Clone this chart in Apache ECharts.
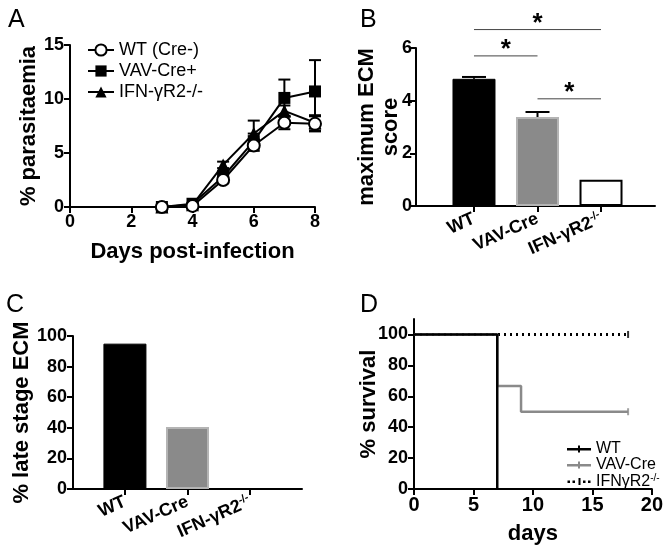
<!DOCTYPE html>
<html><head><meta charset="utf-8">
<script src="https://cdn.jsdelivr.net/npm/echarts@6/dist/echarts.min.js"></script>
<style>html,body{margin:0;padding:0;background:#fff}#c{width:666px;height:550px}</style>
</head><body><div id="c"></div>
<script>
// ---- Panel A data ----
const daysA = [3, 4, 5, 6, 7, 8];
const wtA = [0, 0.1, 2.5, 5.7, 7.8, 7.7];
const wtAErr = [0.1, 0.1, 0.3, 0.5, 0.6, 0.7];
const vavA = [0, 0.3, 2.8, 6.1, 10.1, 10.7];
const vavAErr = [0.1, 0.1, 0.3, 0.7, 1.7, 2.9];
const ifnA = [0, 0.2, 3.9, 6.8, 8.9, 7.8];
const ifnAErr = [0.1, 0.1, 0.3, 1.2, 0.5, 0.7];
const legendA = ['WT (Cre-)', 'VAV-Cre+', 'IFN-γR2-/-'];
// ---- Panel B data ----
const groupsB = ['WT', 'VAV-Cre', 'IFN-γR2-/-'];
const groupPos = [1, 2, 3];
const ecmMax = [4.83, 3.38, 1.0];
const ecmErr = [0.07, 0.19, 0];
// significance comparisons: [from group index, to group index, bracket height]
const sigPairs = [[0, 2, 6.7], [0, 1, 5.7], [1, 2, 4.07]];
// ---- Panel C data ----
const lateECM = [95, 40.5, 0];
// ---- Panel D data (Kaplan-Meier steps) ----
const survWT = [[0, 100], [7, 0]];
const survVAV = [[0, 100], [7, 66.7], [9, 50], [18, 50]];
const survIFN = [[0, 100], [18, 100]];
const legendD = ['WT', 'VAV-Cre', 'IFNγR2-/-'];

const FONT = 'Liberation Sans, Arial, sans-serif';
const ICON_SOLID = 'path://M0,2.5h24v2.5h-24z M11,0h2v7h-2z';
const ICON_DOTTED = 'path://M0,2.5h2.5v2.5h-2.5z M5,2.5h2.5v2.5h-2.5z M11,0h2v7h-2z M15.5,2.5h2.5v2.5h-2.5z M20.5,2.5h2.5v2.5h-2.5z';
const chart = echarts.init(document.getElementById('c'), null, {renderer: 'canvas'});

function axisBase(extra) {
  return Object.assign({
    axisLine: {show: true, lineStyle: {color: '#000', width: 2}},
    axisTick: {show: true, length: 6, lineStyle: {color: '#000', width: 2}},
    axisLabel: {color: '#000', fontFamily: FONT, fontWeight: 'bold', fontSize: 18, margin: 6},
    splitLine: {show: false},
    nameTextStyle: {color: '#000', fontFamily: FONT, fontWeight: 'bold', fontSize: 22},
    nameLocation: 'middle',
    nameMoveOverlap: false
  }, extra);
}
function deepAxis(base, over) {
  const a = axisBase({});
  for (const k in over) {
    if (typeof over[k] === 'object' && !Array.isArray(over[k]) && a[k]) a[k] = Object.assign({}, a[k], over[k]);
    else a[k] = over[k];
  }
  return a;
}

const richSup = {
  n: {color: '#000', fontFamily: FONT, fontWeight: 'bold', fontSize: 18},
  s: {color: '#000', fontFamily: FONT, fontWeight: 'bold', fontSize: 11, verticalAlign: 'top', padding: [0, 0, 9, 0]}
};
function catLabel(v) {
  const name = groupsB[groupPos.indexOf(v)] || '';
  const m = name.match(/^(.*?)(-\/-)$/);
  if (m) return '{n|' + m[1] + '}{s|' + m[2] + '}';
  return '{n|' + name + '}';
}

function errSeries(xIdx, yIdx, xs, ys, es, both, capW, z) {
  const data = xs.map((x, i) => [x, ys[i], es[i]]);
  return {
    type: 'custom', xAxisIndex: xIdx, yAxisIndex: yIdx, z: z || 3, silent: true,
    data: data,
    renderItem: function (params, api) {
      const x = api.value(0), y = api.value(1), e = api.value(2);
      if (!e) return null;
      const top = api.coord([x, y + e]);
      const bot = api.coord([x, both ? y - e : y]);
      const st = {stroke: '#000', lineWidth: 2};
      const ch = [
        {type: 'line', shape: {x1: top[0], y1: top[1], x2: bot[0], y2: bot[1]}, style: st},
        {type: 'line', shape: {x1: top[0] - capW / 2, y1: top[1], x2: top[0] + capW / 2, y2: top[1]}, style: st}
      ];
      if (both) ch.push({type: 'line', shape: {x1: bot[0] - capW / 2, y1: bot[1], x2: bot[0] + capW / 2, y2: bot[1]}, style: st});
      return {type: 'group', children: ch};
    }
  };
}

const pairsA = (ys) => daysA.map((d, i) => [d, ys[i]]);
const lastOf = (arr) => arr[arr.length - 1];

const option = {
  animation: false,
  backgroundColor: '#fff',
  textStyle: {fontFamily: FONT},
  title: [
    {text: 'A', left: 3, top: 3, textStyle: {fontFamily: FONT, fontWeight: 'normal', fontSize: 25, color: '#000'}},
    {text: 'B', left: 355, top: 3, textStyle: {fontFamily: FONT, fontWeight: 'normal', fontSize: 25, color: '#000'}},
    {text: 'C', left: 1, top: 288, textStyle: {fontFamily: FONT, fontWeight: 'normal', fontSize: 25, color: '#000'}},
    {text: 'D', left: 355, top: 288, textStyle: {fontFamily: FONT, fontWeight: 'normal', fontSize: 25, color: '#000'}}
  ],
  legend: [
    {
      data: legendA, orient: 'vertical', left: 82, top: 36, itemGap: 3, itemWidth: 26, itemHeight: 14,
      textStyle: {fontFamily: FONT, fontSize: 18, color: '#000'}, selectedMode: false
    },
    {
      data: legendD.map((n, i) => ({name: n, icon: i === 2 ? ICON_DOTTED : ICON_SOLID})),
      orient: 'vertical', left: 562, top: 436, itemGap: 0, itemWidth: 24, itemHeight: 7,
      symbolKeepAspect: true,
      textStyle: {fontFamily: FONT, fontSize: 16, color: '#000', rich: {
        n: {fontFamily: FONT, fontSize: 16, color: '#000'},
        s: {fontFamily: FONT, fontSize: 10, color: '#000', verticalAlign: 'top', padding: [0, 0, 7, 0]}}},
      formatter: function (name) {
        const m = name.match(/^(.*?)(-\/-)$/);
        return m ? '{n|' + m[1] + '}{s|' + m[2] + '}' : '{n|' + name + '}';
      },
      selectedMode: false
    }
  ],
  grid: [
    {left: 70, top: 45, width: 245, height: 162},
    {left: 416, top: 48, width: 239, height: 158},
    {left: 73, top: 336, width: 229, height: 153},
    {left: 414, top: 319, width: 241, height: 170}
  ],
  xAxis: [
    deepAxis(null, {type: 'value', gridIndex: 0, min: 0, max: 8, interval: 2, name: 'Days post-infection', nameGap: 34}),
    deepAxis(null, {type: 'value', gridIndex: 1, min: 0.087, max: 3.85,
      axisTick: {customValues: groupPos},
      axisLabel: {customValues: groupPos, rotate: 24, margin: 12, formatter: catLabel, rich: richSup}}),
    deepAxis(null, {type: 'value', gridIndex: 2, min: 0.17, max: 3.83,
      axisTick: {customValues: groupPos},
      axisLabel: {customValues: groupPos, rotate: 24, margin: 12, formatter: catLabel, rich: richSup}}),
    deepAxis(null, {type: 'value', gridIndex: 3, min: 0, max: 20, interval: 5, name: 'days', nameGap: 34,
      axisLabel: {fontSize: 20}})
  ],
  yAxis: [
    deepAxis(null, {type: 'value', gridIndex: 0, min: 0, max: 15, interval: 5, name: '% parasitaemia', nameGap: 30}),
    deepAxis(null, {type: 'value', gridIndex: 1, min: 0, max: 6, interval: 2, name: 'maximum ECM\nscore', nameGap: 13,
      nameTextStyle: {lineHeight: 24}, axisLabel: {margin: 4}}),
    deepAxis(null, {type: 'value', gridIndex: 2, min: 0, max: 100, interval: 20, name: '% late stage ECM', nameGap: 40}),
    deepAxis(null, {type: 'value', gridIndex: 3, min: 0, max: 110,
      axisTick: {customValues: [0, 20, 40, 60, 80, 100]},
      axisLabel: {customValues: [0, 20, 40, 60, 80, 100]},
      name: '% survival', nameGap: 34})
  ],
  series: [
    // Panel A
    errSeries(0, 0, daysA, wtA, wtAErr, true, 12, 2),
    errSeries(0, 0, daysA, vavA, vavAErr, true, 12, 2),
    errSeries(0, 0, daysA, ifnA, ifnAErr, true, 12, 2),
    {name: legendA[0], type: 'line', xAxisIndex: 0, yAxisIndex: 0, data: pairsA(wtA), z: 5,
      symbol: 'circle', symbolSize: 12, lineStyle: {color: '#000', width: 2},
      itemStyle: {color: '#fff', borderColor: '#000', borderWidth: 2}},
    {name: legendA[1], type: 'line', xAxisIndex: 0, yAxisIndex: 0, data: pairsA(vavA), z: 4,
      symbol: 'rect', symbolSize: 12, lineStyle: {color: '#000', width: 2},
      itemStyle: {color: '#000', borderColor: '#000', borderWidth: 0}},
    {name: legendA[2], type: 'line', xAxisIndex: 0, yAxisIndex: 0, data: pairsA(ifnA), z: 4,
      symbol: 'triangle', symbolSize: 13, lineStyle: {color: '#000', width: 2},
      itemStyle: {color: '#000', borderColor: '#000', borderWidth: 0}},
    // Panel B
    {type: 'bar', xAxisIndex: 1, yAxisIndex: 1, barWidth: 43, z: 2,
      data: groupPos.map((p, i) => ({
        value: [p, ecmMax[i]],
        itemStyle: i === 0 ? {color: '#000', borderColor: '#000', borderWidth: 1}
          : i === 1 ? {color: '#8a8a8a', borderColor: '#b4b4b4', borderWidth: 2}
          : {color: '#fff', borderColor: '#000', borderWidth: 2}
      }))},
    errSeries(1, 1, groupPos, ecmMax, ecmErr, false, 24, 1),
    {type: 'custom', xAxisIndex: 1, yAxisIndex: 1, silent: true, clip: false, z: 3,
      data: sigPairs.map(s => [groupPos[s[0]], groupPos[s[1]], s[2]]),
      renderItem: function (params, api) {
        const a = api.coord([api.value(0), api.value(2)]);
        const b = api.coord([api.value(1), api.value(2)]);
        return {type: 'group', children: [
          {type: 'line', shape: {x1: a[0], y1: a[1], x2: b[0], y2: b[1]}, style: {stroke: '#444', lineWidth: 1}},
          {type: 'text', style: {text: '*', x: (a[0] + b[0]) / 2, y: a[1] + 7, align: 'center', verticalAlign: 'bottom',
            font: 'bold 26px ' + FONT, fill: '#000'}}
        ]};
      }},
    // Panel C
    {type: 'bar', xAxisIndex: 2, yAxisIndex: 2, barWidth: 43, z: 2,
      data: groupPos.map((p, i) => ({
        value: [p, lateECM[i]],
        itemStyle: i === 0 ? {color: '#000', borderColor: '#000', borderWidth: 1}
          : i === 1 ? {color: '#8a8a8a', borderColor: '#b4b4b4', borderWidth: 2}
          : {color: '#fff', borderColor: '#000', borderWidth: 2}
      }))},
    // Panel D
    {name: legendD[2], type: 'line', xAxisIndex: 3, yAxisIndex: 3, step: 'end', data: survIFN, z: 3,
      symbol: 'none', lineStyle: {color: '#000', width: 3, type: [2, 4]}, itemStyle: {color: '#000'}},
    {name: legendD[1], type: 'line', xAxisIndex: 3, yAxisIndex: 3, step: 'end', data: survVAV, z: 4,
      symbol: 'none', lineStyle: {color: '#8a8a8a', width: 2.5}, itemStyle: {color: '#8a8a8a'}},
    {name: legendD[0], type: 'line', xAxisIndex: 3, yAxisIndex: 3, step: 'end', data: survWT, z: 5,
      symbol: 'none', lineStyle: {color: '#000', width: 2.5}, itemStyle: {color: '#000'}},
    // censor marks at the end of follow-up
    {type: 'scatter', xAxisIndex: 3, yAxisIndex: 3, z: 6, silent: true, symbol: 'rect', symbolSize: [2, 7],
      data: [
        {value: lastOf(survVAV), itemStyle: {color: '#8a8a8a'}},
        {value: lastOf(survIFN), itemStyle: {color: '#000'}}
      ]}
  ]
};
chart.setOption(option);
</script></body></html>
